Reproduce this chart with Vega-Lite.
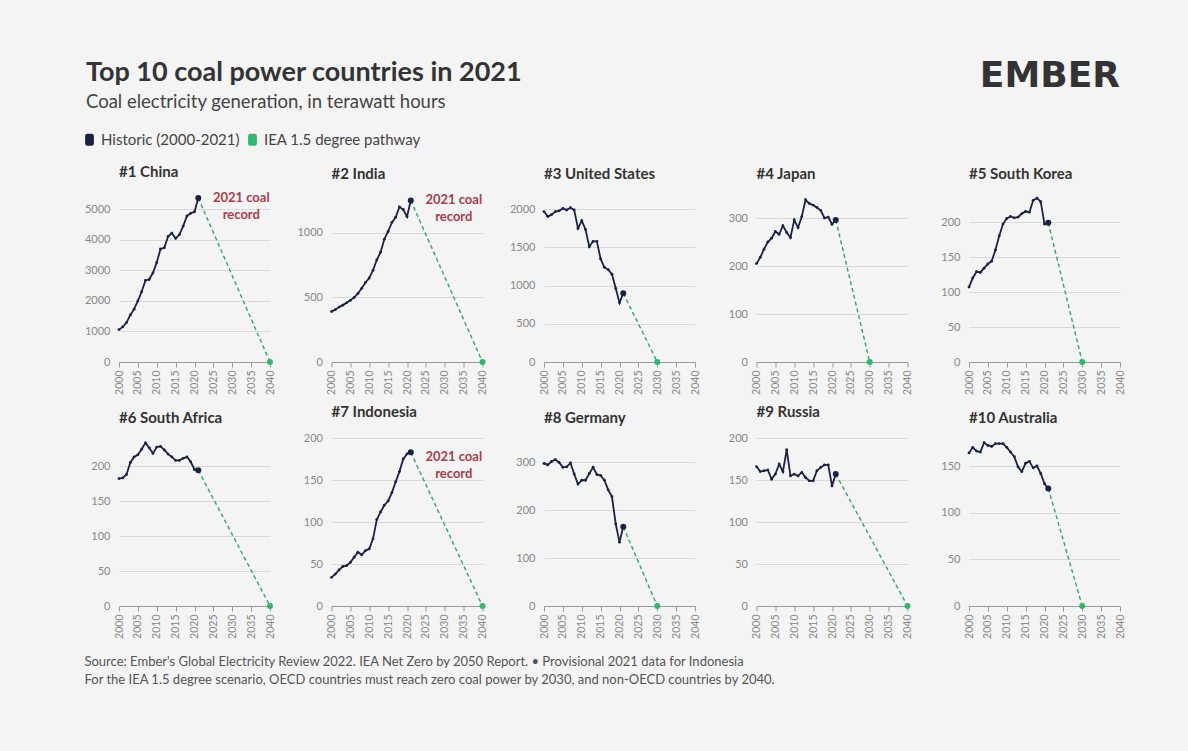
{
  "$schema": "https://vega.github.io/schema/vega-lite/v6.json",
  "background": "#f4f4f4",
  "padding": {"left": 84, "top": 58, "right": 63, "bottom": 66},
  "data": {
    "values": [
      {"c":"China","year":2000,"twh":1060,"s":"Historic (2000-2021)"},{"c":"China","year":2001,"twh":1150,"s":"Historic (2000-2021)"},{"c":"China","year":2002,"twh":1290,"s":"Historic (2000-2021)"},{"c":"China","year":2003,"twh":1540,"s":"Historic (2000-2021)"},{"c":"China","year":2004,"twh":1730,"s":"Historic (2000-2021)"},{"c":"China","year":2005,"twh":2000,"s":"Historic (2000-2021)"},{"c":"China","year":2006,"twh":2300,"s":"Historic (2000-2021)"},{"c":"China","year":2007,"twh":2670,"s":"Historic (2000-2021)"},{"c":"China","year":2008,"twh":2700,"s":"Historic (2000-2021)"},{"c":"China","year":2009,"twh":2920,"s":"Historic (2000-2021)"},{"c":"China","year":2010,"twh":3260,"s":"Historic (2000-2021)"},{"c":"China","year":2011,"twh":3700,"s":"Historic (2000-2021)"},{"c":"China","year":2012,"twh":3740,"s":"Historic (2000-2021)"},{"c":"China","year":2013,"twh":4110,"s":"Historic (2000-2021)"},{"c":"China","year":2014,"twh":4220,"s":"Historic (2000-2021)"},{"c":"China","year":2015,"twh":4050,"s":"Historic (2000-2021)"},{"c":"China","year":2016,"twh":4170,"s":"Historic (2000-2021)"},{"c":"China","year":2017,"twh":4450,"s":"Historic (2000-2021)"},{"c":"China","year":2018,"twh":4780,"s":"Historic (2000-2021)"},{"c":"China","year":2019,"twh":4870,"s":"Historic (2000-2021)"},{"c":"China","year":2020,"twh":4920,"s":"Historic (2000-2021)"},{"c":"China","year":2021,"twh":5370,"s":"Historic (2000-2021)"},
      {"c":"China","year":2021,"twh":5370,"s":"IEA 1.5 degree pathway"},{"c":"China","year":2040,"twh":0,"s":"IEA 1.5 degree pathway"},
      {"c":"India","year":2000,"twh":390,"s":"Historic (2000-2021)"},{"c":"India","year":2001,"twh":405,"s":"Historic (2000-2021)"},{"c":"India","year":2002,"twh":425,"s":"Historic (2000-2021)"},{"c":"India","year":2003,"twh":440,"s":"Historic (2000-2021)"},{"c":"India","year":2004,"twh":458,"s":"Historic (2000-2021)"},{"c":"India","year":2005,"twh":477,"s":"Historic (2000-2021)"},{"c":"India","year":2006,"twh":500,"s":"Historic (2000-2021)"},{"c":"India","year":2007,"twh":530,"s":"Historic (2000-2021)"},{"c":"India","year":2008,"twh":570,"s":"Historic (2000-2021)"},{"c":"India","year":2009,"twh":615,"s":"Historic (2000-2021)"},{"c":"India","year":2010,"twh":650,"s":"Historic (2000-2021)"},{"c":"India","year":2011,"twh":710,"s":"Historic (2000-2021)"},{"c":"India","year":2012,"twh":790,"s":"Historic (2000-2021)"},{"c":"India","year":2013,"twh":850,"s":"Historic (2000-2021)"},{"c":"India","year":2014,"twh":950,"s":"Historic (2000-2021)"},{"c":"India","year":2015,"twh":1010,"s":"Historic (2000-2021)"},{"c":"India","year":2016,"twh":1080,"s":"Historic (2000-2021)"},{"c":"India","year":2017,"twh":1120,"s":"Historic (2000-2021)"},{"c":"India","year":2018,"twh":1200,"s":"Historic (2000-2021)"},{"c":"India","year":2019,"twh":1180,"s":"Historic (2000-2021)"},{"c":"India","year":2020,"twh":1125,"s":"Historic (2000-2021)"},{"c":"India","year":2021,"twh":1250,"s":"Historic (2000-2021)"},
      {"c":"India","year":2021,"twh":1250,"s":"IEA 1.5 degree pathway"},{"c":"India","year":2040,"twh":0,"s":"IEA 1.5 degree pathway"},
      {"c":"United States","year":2000,"twh":1970,"s":"Historic (2000-2021)"},{"c":"United States","year":2001,"twh":1905,"s":"Historic (2000-2021)"},{"c":"United States","year":2002,"twh":1930,"s":"Historic (2000-2021)"},{"c":"United States","year":2003,"twh":1970,"s":"Historic (2000-2021)"},{"c":"United States","year":2004,"twh":1980,"s":"Historic (2000-2021)"},{"c":"United States","year":2005,"twh":2010,"s":"Historic (2000-2021)"},{"c":"United States","year":2006,"twh":1990,"s":"Historic (2000-2021)"},{"c":"United States","year":2007,"twh":2020,"s":"Historic (2000-2021)"},{"c":"United States","year":2008,"twh":1990,"s":"Historic (2000-2021)"},{"c":"United States","year":2009,"twh":1750,"s":"Historic (2000-2021)"},{"c":"United States","year":2010,"twh":1850,"s":"Historic (2000-2021)"},{"c":"United States","year":2011,"twh":1735,"s":"Historic (2000-2021)"},{"c":"United States","year":2012,"twh":1510,"s":"Historic (2000-2021)"},{"c":"United States","year":2013,"twh":1580,"s":"Historic (2000-2021)"},{"c":"United States","year":2014,"twh":1580,"s":"Historic (2000-2021)"},{"c":"United States","year":2015,"twh":1350,"s":"Historic (2000-2021)"},{"c":"United States","year":2016,"twh":1240,"s":"Historic (2000-2021)"},{"c":"United States","year":2017,"twh":1210,"s":"Historic (2000-2021)"},{"c":"United States","year":2018,"twh":1150,"s":"Historic (2000-2021)"},{"c":"United States","year":2019,"twh":965,"s":"Historic (2000-2021)"},{"c":"United States","year":2020,"twh":775,"s":"Historic (2000-2021)"},{"c":"United States","year":2021,"twh":900,"s":"Historic (2000-2021)"},
      {"c":"United States","year":2021,"twh":900,"s":"IEA 1.5 degree pathway"},{"c":"United States","year":2030,"twh":0,"s":"IEA 1.5 degree pathway"},
      {"c":"Japan","year":2000,"twh":205,"s":"Historic (2000-2021)"},{"c":"Japan","year":2001,"twh":218,"s":"Historic (2000-2021)"},{"c":"Japan","year":2002,"twh":235,"s":"Historic (2000-2021)"},{"c":"Japan","year":2003,"twh":250,"s":"Historic (2000-2021)"},{"c":"Japan","year":2004,"twh":258,"s":"Historic (2000-2021)"},{"c":"Japan","year":2005,"twh":272,"s":"Historic (2000-2021)"},{"c":"Japan","year":2006,"twh":266,"s":"Historic (2000-2021)"},{"c":"Japan","year":2007,"twh":284,"s":"Historic (2000-2021)"},{"c":"Japan","year":2008,"twh":270,"s":"Historic (2000-2021)"},{"c":"Japan","year":2009,"twh":259,"s":"Historic (2000-2021)"},{"c":"Japan","year":2010,"twh":296,"s":"Historic (2000-2021)"},{"c":"Japan","year":2011,"twh":280,"s":"Historic (2000-2021)"},{"c":"Japan","year":2012,"twh":303,"s":"Historic (2000-2021)"},{"c":"Japan","year":2013,"twh":338,"s":"Historic (2000-2021)"},{"c":"Japan","year":2014,"twh":330,"s":"Historic (2000-2021)"},{"c":"Japan","year":2015,"twh":327,"s":"Historic (2000-2021)"},{"c":"Japan","year":2016,"twh":322,"s":"Historic (2000-2021)"},{"c":"Japan","year":2017,"twh":316,"s":"Historic (2000-2021)"},{"c":"Japan","year":2018,"twh":300,"s":"Historic (2000-2021)"},{"c":"Japan","year":2019,"twh":302,"s":"Historic (2000-2021)"},{"c":"Japan","year":2020,"twh":287,"s":"Historic (2000-2021)"},{"c":"Japan","year":2021,"twh":296,"s":"Historic (2000-2021)"},
      {"c":"Japan","year":2021,"twh":296,"s":"IEA 1.5 degree pathway"},{"c":"Japan","year":2030,"twh":0,"s":"IEA 1.5 degree pathway"},
      {"c":"South Korea","year":2000,"twh":107,"s":"Historic (2000-2021)"},{"c":"South Korea","year":2001,"twh":120,"s":"Historic (2000-2021)"},{"c":"South Korea","year":2002,"twh":129,"s":"Historic (2000-2021)"},{"c":"South Korea","year":2003,"twh":128,"s":"Historic (2000-2021)"},{"c":"South Korea","year":2004,"twh":134,"s":"Historic (2000-2021)"},{"c":"South Korea","year":2005,"twh":140,"s":"Historic (2000-2021)"},{"c":"South Korea","year":2006,"twh":144,"s":"Historic (2000-2021)"},{"c":"South Korea","year":2007,"twh":160,"s":"Historic (2000-2021)"},{"c":"South Korea","year":2008,"twh":180,"s":"Historic (2000-2021)"},{"c":"South Korea","year":2009,"twh":197,"s":"Historic (2000-2021)"},{"c":"South Korea","year":2010,"twh":205,"s":"Historic (2000-2021)"},{"c":"South Korea","year":2011,"twh":208,"s":"Historic (2000-2021)"},{"c":"South Korea","year":2012,"twh":206,"s":"Historic (2000-2021)"},{"c":"South Korea","year":2013,"twh":207,"s":"Historic (2000-2021)"},{"c":"South Korea","year":2014,"twh":212,"s":"Historic (2000-2021)"},{"c":"South Korea","year":2015,"twh":215,"s":"Historic (2000-2021)"},{"c":"South Korea","year":2016,"twh":214,"s":"Historic (2000-2021)"},{"c":"South Korea","year":2017,"twh":231,"s":"Historic (2000-2021)"},{"c":"South Korea","year":2018,"twh":234,"s":"Historic (2000-2021)"},{"c":"South Korea","year":2019,"twh":229,"s":"Historic (2000-2021)"},{"c":"South Korea","year":2020,"twh":197,"s":"Historic (2000-2021)"},{"c":"South Korea","year":2021,"twh":199,"s":"Historic (2000-2021)"},
      {"c":"South Korea","year":2021,"twh":199,"s":"IEA 1.5 degree pathway"},{"c":"South Korea","year":2030,"twh":0,"s":"IEA 1.5 degree pathway"},
      {"c":"South Africa","year":2000,"twh":182,"s":"Historic (2000-2021)"},{"c":"South Africa","year":2001,"twh":183,"s":"Historic (2000-2021)"},{"c":"South Africa","year":2002,"twh":188,"s":"Historic (2000-2021)"},{"c":"South Africa","year":2003,"twh":205,"s":"Historic (2000-2021)"},{"c":"South Africa","year":2004,"twh":213,"s":"Historic (2000-2021)"},{"c":"South Africa","year":2005,"twh":216,"s":"Historic (2000-2021)"},{"c":"South Africa","year":2006,"twh":224,"s":"Historic (2000-2021)"},{"c":"South Africa","year":2007,"twh":233,"s":"Historic (2000-2021)"},{"c":"South Africa","year":2008,"twh":226,"s":"Historic (2000-2021)"},{"c":"South Africa","year":2009,"twh":218,"s":"Historic (2000-2021)"},{"c":"South Africa","year":2010,"twh":227,"s":"Historic (2000-2021)"},{"c":"South Africa","year":2011,"twh":228,"s":"Historic (2000-2021)"},{"c":"South Africa","year":2012,"twh":223,"s":"Historic (2000-2021)"},{"c":"South Africa","year":2013,"twh":217,"s":"Historic (2000-2021)"},{"c":"South Africa","year":2014,"twh":213,"s":"Historic (2000-2021)"},{"c":"South Africa","year":2015,"twh":208,"s":"Historic (2000-2021)"},{"c":"South Africa","year":2016,"twh":208,"s":"Historic (2000-2021)"},{"c":"South Africa","year":2017,"twh":211,"s":"Historic (2000-2021)"},{"c":"South Africa","year":2018,"twh":213,"s":"Historic (2000-2021)"},{"c":"South Africa","year":2019,"twh":206,"s":"Historic (2000-2021)"},{"c":"South Africa","year":2020,"twh":195,"s":"Historic (2000-2021)"},{"c":"South Africa","year":2021,"twh":194,"s":"Historic (2000-2021)"},
      {"c":"South Africa","year":2021,"twh":194,"s":"IEA 1.5 degree pathway"},{"c":"South Africa","year":2040,"twh":0,"s":"IEA 1.5 degree pathway"},
      {"c":"Indonesia","year":2000,"twh":34,"s":"Historic (2000-2021)"},{"c":"Indonesia","year":2001,"twh":38,"s":"Historic (2000-2021)"},{"c":"Indonesia","year":2002,"twh":43,"s":"Historic (2000-2021)"},{"c":"Indonesia","year":2003,"twh":47,"s":"Historic (2000-2021)"},{"c":"Indonesia","year":2004,"twh":48,"s":"Historic (2000-2021)"},{"c":"Indonesia","year":2005,"twh":52,"s":"Historic (2000-2021)"},{"c":"Indonesia","year":2006,"twh":58,"s":"Historic (2000-2021)"},{"c":"Indonesia","year":2007,"twh":64,"s":"Historic (2000-2021)"},{"c":"Indonesia","year":2008,"twh":61,"s":"Historic (2000-2021)"},{"c":"Indonesia","year":2009,"twh":66,"s":"Historic (2000-2021)"},{"c":"Indonesia","year":2010,"twh":68,"s":"Historic (2000-2021)"},{"c":"Indonesia","year":2011,"twh":80,"s":"Historic (2000-2021)"},{"c":"Indonesia","year":2012,"twh":103,"s":"Historic (2000-2021)"},{"c":"Indonesia","year":2013,"twh":112,"s":"Historic (2000-2021)"},{"c":"Indonesia","year":2014,"twh":120,"s":"Historic (2000-2021)"},{"c":"Indonesia","year":2015,"twh":125,"s":"Historic (2000-2021)"},{"c":"Indonesia","year":2016,"twh":135,"s":"Historic (2000-2021)"},{"c":"Indonesia","year":2017,"twh":148,"s":"Historic (2000-2021)"},{"c":"Indonesia","year":2018,"twh":160,"s":"Historic (2000-2021)"},{"c":"Indonesia","year":2019,"twh":175,"s":"Historic (2000-2021)"},{"c":"Indonesia","year":2020,"twh":181,"s":"Historic (2000-2021)"},{"c":"Indonesia","year":2021,"twh":183,"s":"Historic (2000-2021)"},
      {"c":"Indonesia","year":2021,"twh":183,"s":"IEA 1.5 degree pathway"},{"c":"Indonesia","year":2040,"twh":0,"s":"IEA 1.5 degree pathway"},
      {"c":"Germany","year":2000,"twh":297,"s":"Historic (2000-2021)"},{"c":"Germany","year":2001,"twh":294,"s":"Historic (2000-2021)"},{"c":"Germany","year":2002,"twh":301,"s":"Historic (2000-2021)"},{"c":"Germany","year":2003,"twh":305,"s":"Historic (2000-2021)"},{"c":"Germany","year":2004,"twh":299,"s":"Historic (2000-2021)"},{"c":"Germany","year":2005,"twh":289,"s":"Historic (2000-2021)"},{"c":"Germany","year":2006,"twh":290,"s":"Historic (2000-2021)"},{"c":"Germany","year":2007,"twh":298,"s":"Historic (2000-2021)"},{"c":"Germany","year":2008,"twh":275,"s":"Historic (2000-2021)"},{"c":"Germany","year":2009,"twh":254,"s":"Historic (2000-2021)"},{"c":"Germany","year":2010,"twh":262,"s":"Historic (2000-2021)"},{"c":"Germany","year":2011,"twh":262,"s":"Historic (2000-2021)"},{"c":"Germany","year":2012,"twh":276,"s":"Historic (2000-2021)"},{"c":"Germany","year":2013,"twh":289,"s":"Historic (2000-2021)"},{"c":"Germany","year":2014,"twh":274,"s":"Historic (2000-2021)"},{"c":"Germany","year":2015,"twh":272,"s":"Historic (2000-2021)"},{"c":"Germany","year":2016,"twh":262,"s":"Historic (2000-2021)"},{"c":"Germany","year":2017,"twh":242,"s":"Historic (2000-2021)"},{"c":"Germany","year":2018,"twh":228,"s":"Historic (2000-2021)"},{"c":"Germany","year":2019,"twh":171,"s":"Historic (2000-2021)"},{"c":"Germany","year":2020,"twh":133,"s":"Historic (2000-2021)"},{"c":"Germany","year":2021,"twh":165,"s":"Historic (2000-2021)"},
      {"c":"Germany","year":2021,"twh":165,"s":"IEA 1.5 degree pathway"},{"c":"Germany","year":2030,"twh":0,"s":"IEA 1.5 degree pathway"},
      {"c":"Russia","year":2000,"twh":166,"s":"Historic (2000-2021)"},{"c":"Russia","year":2001,"twh":160,"s":"Historic (2000-2021)"},{"c":"Russia","year":2002,"twh":161,"s":"Historic (2000-2021)"},{"c":"Russia","year":2003,"twh":162,"s":"Historic (2000-2021)"},{"c":"Russia","year":2004,"twh":151,"s":"Historic (2000-2021)"},{"c":"Russia","year":2005,"twh":157,"s":"Historic (2000-2021)"},{"c":"Russia","year":2006,"twh":169,"s":"Historic (2000-2021)"},{"c":"Russia","year":2007,"twh":160,"s":"Historic (2000-2021)"},{"c":"Russia","year":2008,"twh":186,"s":"Historic (2000-2021)"},{"c":"Russia","year":2009,"twh":155,"s":"Historic (2000-2021)"},{"c":"Russia","year":2010,"twh":157,"s":"Historic (2000-2021)"},{"c":"Russia","year":2011,"twh":155,"s":"Historic (2000-2021)"},{"c":"Russia","year":2012,"twh":159,"s":"Historic (2000-2021)"},{"c":"Russia","year":2013,"twh":153,"s":"Historic (2000-2021)"},{"c":"Russia","year":2014,"twh":149,"s":"Historic (2000-2021)"},{"c":"Russia","year":2015,"twh":149,"s":"Historic (2000-2021)"},{"c":"Russia","year":2016,"twh":161,"s":"Historic (2000-2021)"},{"c":"Russia","year":2017,"twh":165,"s":"Historic (2000-2021)"},{"c":"Russia","year":2018,"twh":168,"s":"Historic (2000-2021)"},{"c":"Russia","year":2019,"twh":168,"s":"Historic (2000-2021)"},{"c":"Russia","year":2020,"twh":143,"s":"Historic (2000-2021)"},{"c":"Russia","year":2021,"twh":157,"s":"Historic (2000-2021)"},
      {"c":"Russia","year":2021,"twh":157,"s":"IEA 1.5 degree pathway"},{"c":"Russia","year":2040,"twh":0,"s":"IEA 1.5 degree pathway"},
      {"c":"Australia","year":2000,"twh":164,"s":"Historic (2000-2021)"},{"c":"Australia","year":2001,"twh":170,"s":"Historic (2000-2021)"},{"c":"Australia","year":2002,"twh":166,"s":"Historic (2000-2021)"},{"c":"Australia","year":2003,"twh":165,"s":"Historic (2000-2021)"},{"c":"Australia","year":2004,"twh":175,"s":"Historic (2000-2021)"},{"c":"Australia","year":2005,"twh":172,"s":"Historic (2000-2021)"},{"c":"Australia","year":2006,"twh":171,"s":"Historic (2000-2021)"},{"c":"Australia","year":2007,"twh":174,"s":"Historic (2000-2021)"},{"c":"Australia","year":2008,"twh":174,"s":"Historic (2000-2021)"},{"c":"Australia","year":2009,"twh":174,"s":"Historic (2000-2021)"},{"c":"Australia","year":2010,"twh":170,"s":"Historic (2000-2021)"},{"c":"Australia","year":2011,"twh":165,"s":"Historic (2000-2021)"},{"c":"Australia","year":2012,"twh":160,"s":"Historic (2000-2021)"},{"c":"Australia","year":2013,"twh":149,"s":"Historic (2000-2021)"},{"c":"Australia","year":2014,"twh":144,"s":"Historic (2000-2021)"},{"c":"Australia","year":2015,"twh":153,"s":"Historic (2000-2021)"},{"c":"Australia","year":2016,"twh":155,"s":"Historic (2000-2021)"},{"c":"Australia","year":2017,"twh":148,"s":"Historic (2000-2021)"},{"c":"Australia","year":2018,"twh":150,"s":"Historic (2000-2021)"},{"c":"Australia","year":2019,"twh":142,"s":"Historic (2000-2021)"},{"c":"Australia","year":2020,"twh":131,"s":"Historic (2000-2021)"},{"c":"Australia","year":2021,"twh":126,"s":"Historic (2000-2021)"},
      {"c":"Australia","year":2021,"twh":126,"s":"IEA 1.5 degree pathway"},{"c":"Australia","year":2030,"twh":0,"s":"IEA 1.5 degree pathway"}
    ]
  },
  "resolve": {"scale": {"color": "independent"}},
  "spacing": 12,
  "vconcat": [
    {
      "bounds": "flush",
      "spacing": 999,
      "hconcat": [
        {
          "data": {"values": []},
          "width": 1, "height": 1,
          "mark": "point",
          "title": {
            "text": "Top 10 coal power countries in 2021",
            "subtitle": "Coal electricity generation, in terawatt hours",
            "fontSize": 27, "fontWeight": "bold", "color": "#333333",
            "subtitleFontSize": 18.5, "subtitleColor": "#444444", "subtitleFont": "Lato",
            "subtitlePadding": 6, "offset": 7, "dx": -33
          }
        },
        {
          "data": {"values": []},
          "width": 1, "height": 1,
          "mark": "point",
          "title": {
            "text": "EMBER", "anchor": "end", "font": "DejaVu Sans",
            "fontSize": 36, "fontWeight": "bold", "color": "#333333", "offset": 24
          }
        }
      ]
    },
    {
      "columns": 5,
      "bounds": "flush",
      "spacing": {"row": 76, "column": 61.5},
      "title": {
        "text": [
          "Source: Ember's Global Electricity Review 2022. IEA Net Zero by 2050 Report. • Provisional 2021 data for Indonesia",
          "For the IEA 1.5 degree scenario, OECD countries must reach zero coal power by 2030, and non-OECD countries by 2040."
        ],
        "orient": "bottom", "anchor": "start", "frame": "bounds",
        "fontSize": 13, "fontWeight": "normal", "color": "#555555", "lineHeight": 18, "offset": 18
      },
      "concat": [
        {
          "title": "#1 China",
          "transform": [{"filter": "datum.c === 'China'"}],
          "encoding": {
            "x": {"field": "year", "type": "quantitative", "title": null, "scale": {"domain": [2000, 2040]}, "axis": {"values": [2000, 2005, 2010, 2015, 2020, 2025, 2030, 2035, 2040]}},
            "y": {"field": "twh", "type": "quantitative", "title": null, "scale": {"domain": [0, 5500], "nice": false}, "axis": {"values": [0, 1000, 2000, 3000, 4000, 5000]}}
          },
          "layer": [
            {"transform": [{"filter": "datum.s[0] === 'I'"}], "mark": {"type": "line", "color": "#2aa866", "strokeDash": [4, 3], "strokeWidth": 1.4}},
            {"transform": [{"filter": "datum.s[0] === 'H'"}], "mark": {"type": "line", "color": "#1c2146", "strokeWidth": 1.8, "point": {"filled": true, "size": 8, "color": "#1c2146"}}},
            {"transform": [{"filter": "(datum.year === 2021 && datum.s[0] === 'H') || datum.year > 2021"}], "mark": {"type": "point", "filled": true, "opacity": 1, "size": 36}, "encoding": {"color": {"field": "s", "type": "nominal", "title": null}}},
            {"transform": [{"filter": "datum.year === 2021 && datum.s[0] === 'H'"}], "mark": {"type": "text", "text": ["2021 coal", "record"], "dx": 43, "dy": -6, "baseline": "top", "align": "center", "fontSize": 13, "fontWeight": "bold", "color": "#b03a48", "lineHeight": 17}}
          ]
        },
        {
          "title": "#2 India",
          "transform": [{"filter": "datum.c === 'India'"}],
          "encoding": {
            "x": {"field": "year", "type": "quantitative", "title": null, "scale": {"domain": [2000, 2040]}, "axis": {"values": [2000, 2005, 2010, 2015, 2020, 2025, 2030, 2035, 2040]}},
            "y": {"field": "twh", "type": "quantitative", "title": null, "scale": {"domain": [0, 1300], "nice": false}, "axis": {"values": [0, 500, 1000]}}
          },
          "layer": [
            {"transform": [{"filter": "datum.s[0] === 'I'"}], "mark": {"type": "line", "color": "#2aa866", "strokeDash": [4, 3], "strokeWidth": 1.4}},
            {"transform": [{"filter": "datum.s[0] === 'H'"}], "mark": {"type": "line", "color": "#1c2146", "strokeWidth": 1.8, "point": {"filled": true, "size": 8, "color": "#1c2146"}}},
            {"transform": [{"filter": "(datum.year === 2021 && datum.s[0] === 'H') || datum.year > 2021"}], "mark": {"type": "point", "filled": true, "opacity": 1, "size": 36}, "encoding": {"color": {"field": "s", "type": "nominal", "title": null}}},
            {"transform": [{"filter": "datum.year === 2021 && datum.s[0] === 'H'"}], "mark": {"type": "text", "text": ["2021 coal", "record"], "dx": 43, "dy": -6, "baseline": "top", "align": "center", "fontSize": 13, "fontWeight": "bold", "color": "#b03a48", "lineHeight": 17}}
          ]
        },
        {
          "title": "#3 United States",
          "transform": [{"filter": "datum.c === 'United States'"}],
          "encoding": {
            "x": {"field": "year", "type": "quantitative", "title": null, "scale": {"domain": [2000, 2040]}, "axis": {"values": [2000, 2005, 2010, 2015, 2020, 2025, 2030, 2035, 2040]}},
            "y": {"field": "twh", "type": "quantitative", "title": null, "scale": {"domain": [0, 2200], "nice": false}, "axis": {"values": [0, 500, 1000, 1500, 2000]}}
          },
          "layer": [
            {"transform": [{"filter": "datum.s[0] === 'I'"}], "mark": {"type": "line", "color": "#2aa866", "strokeDash": [4, 3], "strokeWidth": 1.4}},
            {"transform": [{"filter": "datum.s[0] === 'H'"}], "mark": {"type": "line", "color": "#1c2146", "strokeWidth": 1.8, "point": {"filled": true, "size": 8, "color": "#1c2146"}}},
            {"transform": [{"filter": "(datum.year === 2021 && datum.s[0] === 'H') || datum.year > 2021"}], "mark": {"type": "point", "filled": true, "opacity": 1, "size": 36}, "encoding": {"color": {"field": "s", "type": "nominal", "title": null}}}
          ]
        },
        {
          "title": "#4 Japan",
          "transform": [{"filter": "datum.c === 'Japan'"}],
          "encoding": {
            "x": {"field": "year", "type": "quantitative", "title": null, "scale": {"domain": [2000, 2040]}, "axis": {"values": [2000, 2005, 2010, 2015, 2020, 2025, 2030, 2035, 2040]}},
            "y": {"field": "twh", "type": "quantitative", "title": null, "scale": {"domain": [0, 350], "nice": false}, "axis": {"values": [0, 100, 200, 300]}}
          },
          "layer": [
            {"transform": [{"filter": "datum.s[0] === 'I'"}], "mark": {"type": "line", "color": "#2aa866", "strokeDash": [4, 3], "strokeWidth": 1.4}},
            {"transform": [{"filter": "datum.s[0] === 'H'"}], "mark": {"type": "line", "color": "#1c2146", "strokeWidth": 1.8, "point": {"filled": true, "size": 8, "color": "#1c2146"}}},
            {"transform": [{"filter": "(datum.year === 2021 && datum.s[0] === 'H') || datum.year > 2021"}], "mark": {"type": "point", "filled": true, "opacity": 1, "size": 36}, "encoding": {"color": {"field": "s", "type": "nominal", "title": null}}}
          ]
        },
        {
          "title": "#5 South Korea",
          "transform": [{"filter": "datum.c === 'South Korea'"}],
          "encoding": {
            "x": {"field": "year", "type": "quantitative", "title": null, "scale": {"domain": [2000, 2040]}, "axis": {"values": [2000, 2005, 2010, 2015, 2020, 2025, 2030, 2035, 2040]}},
            "y": {"field": "twh", "type": "quantitative", "title": null, "scale": {"domain": [0, 240], "nice": false}, "axis": {"values": [0, 50, 100, 150, 200]}}
          },
          "layer": [
            {"transform": [{"filter": "datum.s[0] === 'I'"}], "mark": {"type": "line", "color": "#2aa866", "strokeDash": [4, 3], "strokeWidth": 1.4}},
            {"transform": [{"filter": "datum.s[0] === 'H'"}], "mark": {"type": "line", "color": "#1c2146", "strokeWidth": 1.8, "point": {"filled": true, "size": 8, "color": "#1c2146"}}},
            {"transform": [{"filter": "(datum.year === 2021 && datum.s[0] === 'H') || datum.year > 2021"}], "mark": {"type": "point", "filled": true, "opacity": 1, "size": 36}, "encoding": {"color": {"field": "s", "type": "nominal", "title": null}}}
          ]
        },
        {
          "title": "#6 South Africa",
          "transform": [{"filter": "datum.c === 'South Africa'"}],
          "encoding": {
            "x": {"field": "year", "type": "quantitative", "title": null, "scale": {"domain": [2000, 2040]}, "axis": {"values": [2000, 2005, 2010, 2015, 2020, 2025, 2030, 2035, 2040]}},
            "y": {"field": "twh", "type": "quantitative", "title": null, "scale": {"domain": [0, 240], "nice": false}, "axis": {"values": [0, 50, 100, 150, 200]}}
          },
          "layer": [
            {"transform": [{"filter": "datum.s[0] === 'I'"}], "mark": {"type": "line", "color": "#2aa866", "strokeDash": [4, 3], "strokeWidth": 1.4}},
            {"transform": [{"filter": "datum.s[0] === 'H'"}], "mark": {"type": "line", "color": "#1c2146", "strokeWidth": 1.8, "point": {"filled": true, "size": 8, "color": "#1c2146"}}},
            {"transform": [{"filter": "(datum.year === 2021 && datum.s[0] === 'H') || datum.year > 2021"}], "mark": {"type": "point", "filled": true, "opacity": 1, "size": 36}, "encoding": {"color": {"field": "s", "type": "nominal", "title": null}}}
          ]
        },
        {
          "title": "#7 Indonesia",
          "transform": [{"filter": "datum.c === 'Indonesia'"}],
          "encoding": {
            "x": {"field": "year", "type": "quantitative", "title": null, "scale": {"domain": [2000, 2040]}, "axis": {"values": [2000, 2005, 2010, 2015, 2020, 2025, 2030, 2035, 2040]}},
            "y": {"field": "twh", "type": "quantitative", "title": null, "scale": {"domain": [0, 200], "nice": false}, "axis": {"values": [0, 50, 100, 150, 200]}}
          },
          "layer": [
            {"transform": [{"filter": "datum.s[0] === 'I'"}], "mark": {"type": "line", "color": "#2aa866", "strokeDash": [4, 3], "strokeWidth": 1.4}},
            {"transform": [{"filter": "datum.s[0] === 'H'"}], "mark": {"type": "line", "color": "#1c2146", "strokeWidth": 1.8, "point": {"filled": true, "size": 8, "color": "#1c2146"}}},
            {"transform": [{"filter": "(datum.year === 2021 && datum.s[0] === 'H') || datum.year > 2021"}], "mark": {"type": "point", "filled": true, "opacity": 1, "size": 36}, "encoding": {"color": {"field": "s", "type": "nominal", "title": null}}},
            {"transform": [{"filter": "datum.year === 2021 && datum.s[0] === 'H'"}], "mark": {"type": "text", "text": ["2021 coal", "record"], "dx": 43, "dy": -1, "baseline": "top", "align": "center", "fontSize": 13, "fontWeight": "bold", "color": "#b03a48", "lineHeight": 17}}
          ]
        },
        {
          "title": "#8 Germany",
          "transform": [{"filter": "datum.c === 'Germany'"}],
          "encoding": {
            "x": {"field": "year", "type": "quantitative", "title": null, "scale": {"domain": [2000, 2040]}, "axis": {"values": [2000, 2005, 2010, 2015, 2020, 2025, 2030, 2035, 2040]}},
            "y": {"field": "twh", "type": "quantitative", "title": null, "scale": {"domain": [0, 350], "nice": false}, "axis": {"values": [0, 100, 200, 300]}}
          },
          "layer": [
            {"transform": [{"filter": "datum.s[0] === 'I'"}], "mark": {"type": "line", "color": "#2aa866", "strokeDash": [4, 3], "strokeWidth": 1.4}},
            {"transform": [{"filter": "datum.s[0] === 'H'"}], "mark": {"type": "line", "color": "#1c2146", "strokeWidth": 1.8, "point": {"filled": true, "size": 8, "color": "#1c2146"}}},
            {"transform": [{"filter": "(datum.year === 2021 && datum.s[0] === 'H') || datum.year > 2021"}], "mark": {"type": "point", "filled": true, "opacity": 1, "size": 36}, "encoding": {"color": {"field": "s", "type": "nominal", "title": null}}}
          ]
        },
        {
          "title": "#9 Russia",
          "transform": [{"filter": "datum.c === 'Russia'"}],
          "encoding": {
            "x": {"field": "year", "type": "quantitative", "title": null, "scale": {"domain": [2000, 2040]}, "axis": {"values": [2000, 2005, 2010, 2015, 2020, 2025, 2030, 2035, 2040]}},
            "y": {"field": "twh", "type": "quantitative", "title": null, "scale": {"domain": [0, 200], "nice": false}, "axis": {"values": [0, 50, 100, 150, 200]}}
          },
          "layer": [
            {"transform": [{"filter": "datum.s[0] === 'I'"}], "mark": {"type": "line", "color": "#2aa866", "strokeDash": [4, 3], "strokeWidth": 1.4}},
            {"transform": [{"filter": "datum.s[0] === 'H'"}], "mark": {"type": "line", "color": "#1c2146", "strokeWidth": 1.8, "point": {"filled": true, "size": 8, "color": "#1c2146"}}},
            {"transform": [{"filter": "(datum.year === 2021 && datum.s[0] === 'H') || datum.year > 2021"}], "mark": {"type": "point", "filled": true, "opacity": 1, "size": 36}, "encoding": {"color": {"field": "s", "type": "nominal", "title": null}}}
          ]
        },
        {
          "title": "#10 Australia",
          "transform": [{"filter": "datum.c === 'Australia'"}],
          "encoding": {
            "x": {"field": "year", "type": "quantitative", "title": null, "scale": {"domain": [2000, 2040]}, "axis": {"values": [2000, 2005, 2010, 2015, 2020, 2025, 2030, 2035, 2040]}},
            "y": {"field": "twh", "type": "quantitative", "title": null, "scale": {"domain": [0, 180], "nice": false}, "axis": {"values": [0, 50, 100, 150]}}
          },
          "layer": [
            {"transform": [{"filter": "datum.s[0] === 'I'"}], "mark": {"type": "line", "color": "#2aa866", "strokeDash": [4, 3], "strokeWidth": 1.4}},
            {"transform": [{"filter": "datum.s[0] === 'H'"}], "mark": {"type": "line", "color": "#1c2146", "strokeWidth": 1.8, "point": {"filled": true, "size": 8, "color": "#1c2146"}}},
            {"transform": [{"filter": "(datum.year === 2021 && datum.s[0] === 'H') || datum.year > 2021"}], "mark": {"type": "point", "filled": true, "opacity": 1, "size": 36}, "encoding": {"color": {"field": "s", "type": "nominal", "title": null}}}
          ]
        }
      ]
    }
  ],
  "config": {
    "font": "Lato",
    "numberFormat": "d",
    "view": {"stroke": null, "continuousWidth": 151, "continuousHeight": 168},
    "range": {"category": ["#1c2146", "#2dba6f"]},
    "title": {"anchor": "start", "frame": "group", "fontSize": 15, "fontWeight": "bold", "color": "#333333", "offset": 12},
    "axisX": {"grid": false, "labelAngle": 270, "labelFontSize": 10.5, "labelColor": "#888888", "tickColor": "#999999", "domainColor": "#999999", "tickSize": 5, "labelPadding": 3},
    "axisY": {"domain": false, "ticks": false, "gridColor": "#d9d9d9", "labelColor": "#888888", "labelFontSize": 11, "labelPadding": 9},
    "legend": {
      "orient": "top",
      "symbolOffset": -37,
      "symbolType": "M-0.72,-0.6Q-0.72,-1,-0.32,-1H0.32Q0.72,-1,0.72,-0.6V0.6Q0.72,1,0.32,1H-0.32Q-0.72,1,-0.72,0.6Z",
      "symbolSize": 150, "labelFontSize": 15, "labelColor": "#444444", "labelOffset": 4, "columnPadding": 8, "offset": 16
    }
  }
}
